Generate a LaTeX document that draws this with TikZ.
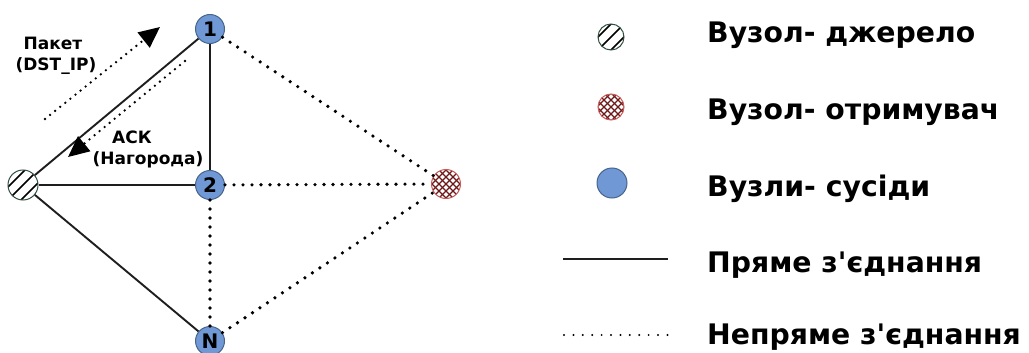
\documentclass[tikz,border=0pt]{standalone}
\usepackage{fontspec}
\setmainfont{DejaVu Sans}[Ligatures=TeXOff]
\usetikzlibrary{arrows.meta}
\definecolor{nbfill}{RGB}{112,152,212}
\definecolor{nbdraw}{RGB}{70,100,140}
\definecolor{srcdraw}{RGB}{50,80,65}
\definecolor{dsthatch}{RGB}{110,25,25}
\definecolor{dstdraw}{RGB}{200,90,90}
\definecolor{linec}{RGB}{30,30,30}
\begin{document}
\begin{tikzpicture}[x=1pt,y=-1pt,
  nb/.style={circle, draw=nbdraw, line width=1pt, fill=nbfill, minimum size=#1, inner sep=0pt,
    font=\bfseries\fontsize{20}{20}\selectfont},
  nb/.default=29pt,
  srcnode/.style={circle, draw=srcdraw, line width=1pt, fill=white, minimum size=#1, inner sep=0pt,
    path picture={\foreach \k in {-26,-13,...,26}
      \draw[black, line width=1.6pt] ([shift={(\k pt-25pt,-25pt)}]path picture bounding box.center) -- ++(50pt,50pt);}},
  srcnode/.default=30pt,
  dstnode/.style={circle, draw=dstdraw, line width=1pt, fill=white, minimum size=#1, inner sep=0pt,
    path picture={\foreach \k in {-35,-28,...,35}{
      \draw[dsthatch, line width=1.1pt] ([shift={(\k pt-25pt,-25pt)}]path picture bounding box.center) -- ++(50pt,50pt);
      \draw[dsthatch, line width=1.1pt] ([shift={(\k pt-25pt,25pt)}]path picture bounding box.center) -- ++(50pt,-50pt);}}},
  dstnode/.default=29pt,
  direct/.style={draw=linec, line width=1.9pt},
  indirect/.style={draw=black, line width=3.6pt, dash pattern=on 0pt off 9pt, line cap=round},
  msg/.style={draw=black, line width=2.6pt, dash pattern=on 0pt off 6.5pt, line cap=round,
    -{Triangle[length=21pt,width=19pt]}},
  lbl/.style={anchor=base, inner sep=0pt, font=\bfseries\fontsize{17}{17}\selectfont},
  legtext/.style={anchor=base west, inner sep=0pt, font=\bfseries\fontsize{28.3}{28.3}\selectfont}
]
\useasboundingbox (0,0) rectangle (1029,353);

% diagram nodes
\node[srcnode] (S) at (23,185) {};
\node[nb] (n1) at (210,29) {1};
\node[nb] (n2) at (210,185) {2};
\node[nb] (nN) at (210,341) {N};
\node[dstnode] (D) at (446,184) {};

% direct links
\draw[direct] (S) -- (n1);
\draw[direct] (S) -- (n2);
\draw[direct] (S) -- (nN);
\draw[direct] (n1) -- (n2);

% indirect links
\draw[indirect] (n1) -- (D);
\draw[indirect] (n2) -- (D);
\draw[indirect] (nN) -- (D);
\draw[indirect] (n2) -- (nN);

% messages
\coordinate (pa) at (45,119);
\coordinate (pb) at (160,27);
\coordinate (aa) at (185,61);
\coordinate (ab) at (68,157);
\draw[msg] (pa) -- (pb);
\draw[msg] (aa) -- (ab);
\node[lbl] (pkt1) at (53,50) {Пакет};
\node[lbl] (pkt2) at (56,71) {(DST\_IP)};
\node[lbl] (ack1) at (132,143) {АСК};
\node[lbl] (ack2) at (148,164) {(Нагорода)};

% legend
\node[srcnode=26pt] (ls) at (611,37) {};
\node[dstnode=26pt] (ld) at (611,107) {};
\node[nb=30pt] (ln) at (612,183) {};
\coordinate (l1a) at (563,259);
\coordinate (l1b) at (668,259);
\coordinate (l2a) at (564,335);
\coordinate (l2b) at (668,335);
\draw[direct] (l1a) -- (l1b);
\draw[draw=black, line width=2.2pt, dash pattern=on 0pt off 9.4pt, line cap=round] (l2a) -- (l2b);

\node[legtext] (t1) at (707,43) {Вузол- джерело};
\node[legtext] (t2) at (707,119) {Вузол- отримувач};
\node[legtext] (t3) at (707,196) {Вузли- сусіди};
\node[legtext] (t4) at (707,272) {Пряме з'єднання};
\node[legtext] (t5) at (707,344) {Непряме з'єднання};
\end{tikzpicture}
\end{document}
